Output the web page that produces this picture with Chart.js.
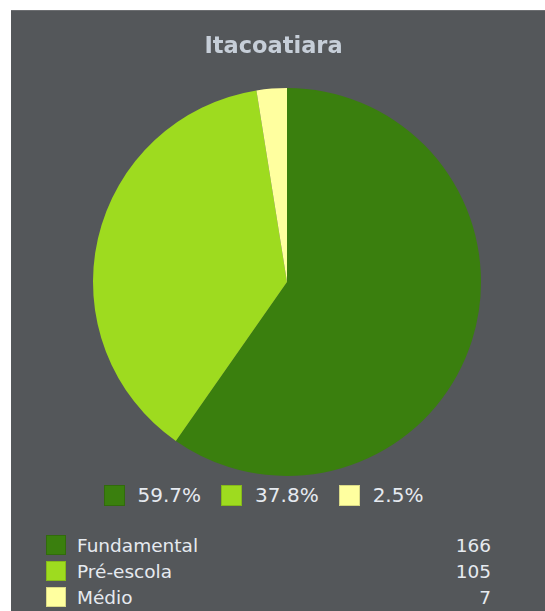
<!DOCTYPE html>
<html>
<head>
<meta charset="utf-8">
<script src="https://cdn.jsdelivr.net/npm/chart.js@4"></script>
<style>
  body { margin: 0; background: #fff; font-family: "DejaVu Sans", Verdana, sans-serif; }
  #panel { position: absolute; left: 11px; top: 10px; width: 534px; height: 601px;
           background: #54575a; border-top: 1px solid #6c6e71; box-sizing: border-box; overflow: hidden; }
  #pieChart { position: absolute; left: 0; top: 0; }
  #title { position: absolute; left: 0; top: 21px; width: 525px; text-align: center;
           font: bold 22.5px "DejaVu Sans", sans-serif; line-height: 26px; color: #c6ced8; }
  #pctLegend { position: absolute; left: 0; top: 474px; width: 505px; display: flex; justify-content: center;
               font-size: 20px; line-height: 21px; color: #e6eaf0; }
  #pctLegend .item { display: flex; align-items: center; margin: 0 10px; }
  .box { display: inline-block; box-sizing: border-box; border: 1px solid rgba(0,0,0,0.15); }
  #pctLegend .box { width: 21px; height: 21px; margin-right: 13px; }
  #table { position: absolute; left: 35px; top: 524px; width: 445px; font-size: 18.5px; color: #e6eaf0; }
  #table .row { position: relative; height: 26px; line-height: 20px; }
  #table .row .box { position: absolute; left: 0; top: 0; width: 20px; height: 20px; }
  #table .row .lbl { position: absolute; left: 31px; top: 1px; }
  #table .row .val { position: absolute; right: 0; top: 1px; }
</style>
</head>
<body>
<div id="panel">
  <canvas id="pieChart" width="534" height="470"></canvas>
  <div id="title"></div>
  <div id="pctLegend"></div>
  <div id="table"></div>
</div>
<script>
const chartTitle = 'Itacoatiara';
const categories = ['Fundamental', 'Pré-escola', 'Médio'];
const counts = [166, 105, 7];
const colors = ['#3a7f0e', '#9edb1f', '#ffff9f'];

const total = counts.reduce((a, b) => a + b, 0);
const percents = counts.map(v => (v / total * 100).toFixed(1) + '%');

document.getElementById('title').textContent = chartTitle;

const pct = document.getElementById('pctLegend');
percents.forEach((p, i) => {
  const item = document.createElement('div');
  item.className = 'item';
  item.innerHTML = '<span class="box" style="background:' + colors[i] + '"></span><span>' + p + '</span>';
  pct.appendChild(item);
});

const table = document.getElementById('table');
categories.forEach((c, i) => {
  const row = document.createElement('div');
  row.className = 'row';
  row.innerHTML = '<span class="box" style="background:' + colors[i] + '"></span>' +
    '<span class="lbl">' + c + '</span><span class="val">' + counts[i] + '</span>';
  table.appendChild(row);
});

const ctx = document.getElementById('pieChart').getContext('2d');
new Chart(ctx, {
  type: 'pie',
  data: {
    labels: categories,
    datasets: [{
      data: counts,
      backgroundColor: colors,
      borderWidth: 0
    }]
  },
  options: {
    responsive: false,
    animation: false,
    devicePixelRatio: 1,
    layout: { padding: { left: 18, right: 0, top: 77, bottom: 5 } },
    plugins: {
      legend: { display: false },
      tooltip: { enabled: false }
    }
  }
});
</script>
</body>
</html>
